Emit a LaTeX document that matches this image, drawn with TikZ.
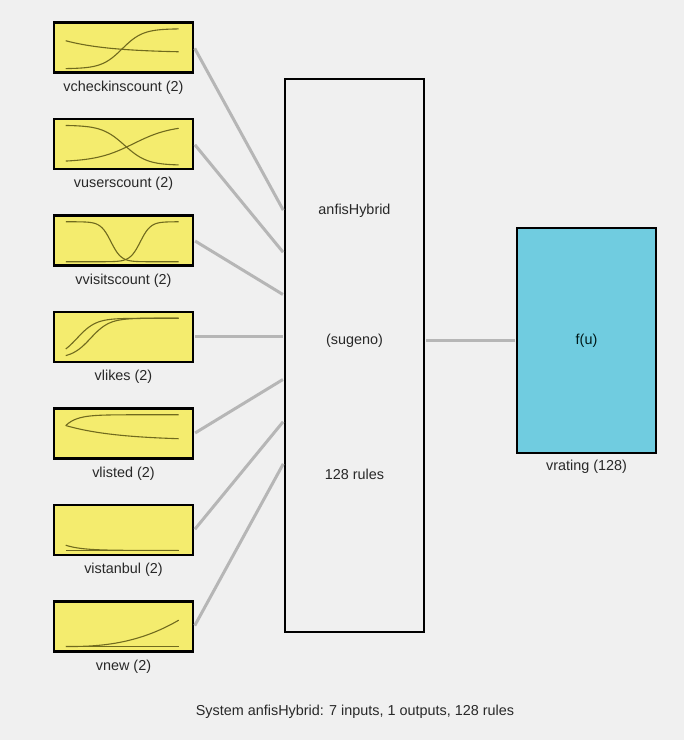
\documentclass[tikz,border=0pt]{standalone}
\usepackage{fontspec}
\setmainfont{Liberation Sans}
\usetikzlibrary{calc,positioning}
\definecolor{bggray}{RGB}{240,240,240}
\definecolor{inyellow}{RGB}{244,236,110}
\definecolor{outcyan}{RGB}{112,204,224}
\definecolor{wiregray}{RGB}{182,182,182}
\definecolor{mfolive}{RGB}{112,106,30}
\definecolor{txtgray}{RGB}{40,40,40}
\tikzset{
  inbox/.style={rectangle, draw=black, line width=2.5, fill=inyellow, inner sep=0,
                minimum width=139, minimum height=50},
  rulebox/.style={rectangle, draw=black, line width=2.5, fill=bggray, inner sep=0,
                  minimum width=139, minimum height=553},
  outbox/.style={rectangle, draw=black, line width=2.5, fill=outcyan, inner sep=0,
                 minimum width=139, minimum height=225, text=black!80!teal},
  varlabel/.style={text=txtgray},
  wire/.style={draw=wiregray, line width=3, shorten <=1pt, shorten >=1pt},
  mfcurve/.style={draw=mfolive, line width=1.1},
  mfarea/.style={shift={(#1.south west)}, xshift=13, yshift=5, x=113pt, y=40pt}
}

\begin{document}
\begin{tikzpicture}[x=1pt, y=1pt, font=\fontsize{14.4}{16}\selectfont]
  \fill[bggray] (0,0) rectangle (684,740);
  \useasboundingbox (0,0) rectangle (684,740);
%
  \node[inbox] (CheckinsCount) at (123.5,692.5) {};
  \node[inbox, below of=CheckinsCount, node distance=96.5] (UsersCount) {};
  \node[inbox, below of=UsersCount, node distance=96.5] (VisitsCount) {};
  \node[inbox, below of=VisitsCount, node distance=96.5] (Likes) {};
  \node[inbox, below of=Likes, node distance=96.5] (Listed) {};
  \node[inbox, below of=Listed, node distance=96.5] (Istanbul) {};
  \node[inbox, below of=Istanbul, node distance=96.5] (New) {};
%
  \node[varlabel, below of=CheckinsCount, node distance=40] (CheckinsLabel) {vcheckinscount (2)};
  \node[varlabel, below of=UsersCount, node distance=40] (UsersLabel) {vuserscount (2)};
  \node[varlabel, below of=VisitsCount, node distance=40] (VisitsLabel) {vvisitscount (2)};
  \node[varlabel, below of=Likes, node distance=40] (LikesLabel) {vlikes (2)};
  \node[varlabel, below of=Listed, node distance=40] (ListedLabel) {vlisted (2)};
  \node[varlabel, below of=Istanbul, node distance=40] (IstanbulLabel) {vistanbul (2)};
  \node[varlabel, below of=New, node distance=40] (NewLabel) {vnew (2)};
%
  \node[rulebox] (RuleBase) at (354.5,384.5) {};
  \node[varlabel, above of=RuleBase, node distance=144.5] (RuleName) {anfisHybrid};
  \node[varlabel, above of=RuleBase, node distance=14.5] (RuleType) {(sugeno)};
  \node[varlabel, below of=RuleBase, node distance=118.5] (RuleCount) {128 rules};
%
  \node[outbox] (Rating) at (586.5,399.5) {f(u)};
  \node[varlabel, below of=Rating, node distance=126.5] (RatingLabel) {vrating (128)};
%
  \node[varlabel] (Summary) at (355,28) {System anfisHybrid: 7 inputs, 1 outputs, 128 rules};
%
  \foreach \src [count=\i from 0] in {CheckinsCount,UsersCount,VisitsCount,Likes,Listed,Istanbul,New}
  {
    \coordinate (Hub\i) at ($(RuleBase.west |- Likes.east)+(0,{126-42*\i})$);
    \draw[wire] (\src.east) -- (Hub\i);
  }
  \draw[wire] (Rating.west -| RuleBase.east) -- (Rating.west);
%
  \begin{scope}[mfarea=CheckinsCount]
    \draw[mfcurve] plot[domain=0:1, samples=50] (\x,{1/(1+exp(-11*(\x-0.5)))});
    \draw[mfcurve] plot[domain=0:1, samples=30] (\x,{0.4+0.3*exp(-2.5*\x)});
  \end{scope}
  \begin{scope}[mfarea=UsersCount]
    \draw[mfcurve] plot[domain=0:1, samples=50] (\x,{1/(1+exp(10*(\x-0.52)))});
    \draw[mfcurve] plot[domain=0:1, samples=50] (\x,{0.08+0.92/(1+exp(-6*(\x-0.6)))});
  \end{scope}
  \begin{scope}[mfarea=VisitsCount]
    \draw[mfcurve] plot[domain=0:1, samples=60] (\x,{1/(1+exp(min(22*(\x-0.40),9)))});
    \draw[mfcurve] plot[domain=0:1, samples=60] (\x,{1/(1+exp(min(-22*(\x-0.66),9)))});
  \end{scope}
  \begin{scope}[mfarea=Likes]
    \draw[mfcurve] plot[domain=0:1, samples=50] (\x,{1/(1+exp(-12*(\x-0.10)))});
    \draw[mfcurve] plot[domain=0:1, samples=50] (\x,{1/(1+exp(-12*(\x-0.22)))});
  \end{scope}
  \begin{scope}[mfarea=Listed]
    \draw[mfcurve] plot[domain=0:1, samples=40] (\x,{1-0.27*exp(-10*\x)});
    \draw[mfcurve] plot[domain=0:1, samples=40] (\x,{0.36+0.37*exp(-2.2*\x)});
  \end{scope}
  \begin{scope}[mfarea=Istanbul]
    \draw[mfcurve] (0,0.02) -- (1,0.02);
    \draw[mfcurve] plot[domain=0:1, samples=40] (\x,{0.02+0.13*exp(-7*\x)});
  \end{scope}
  \begin{scope}[mfarea=New]
    \draw[mfcurve] (0,0.02) -- (1,0.02);
    \draw[mfcurve] plot[domain=0:1, samples=40] (\x,{0.03+0.66*\x*\x*sqrt(\x)});
  \end{scope}
\end{tikzpicture}
\end{document}
